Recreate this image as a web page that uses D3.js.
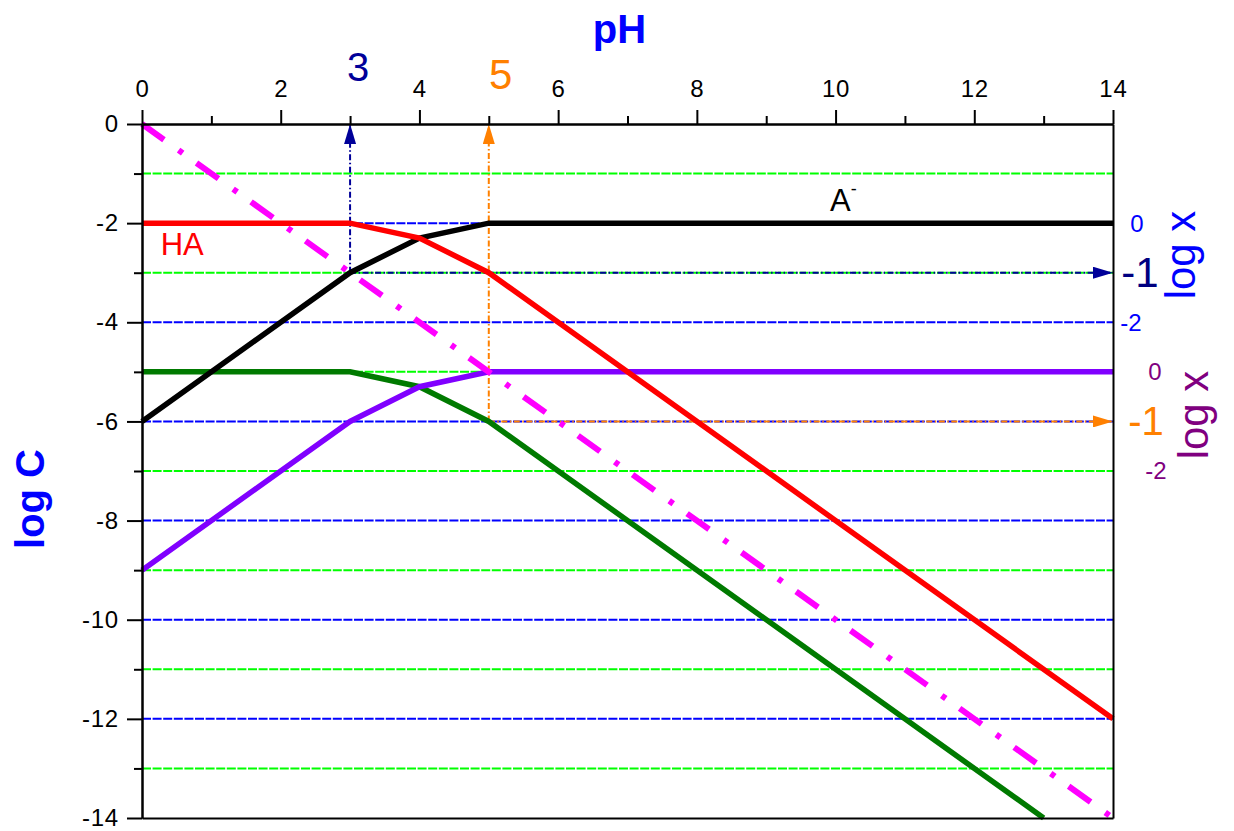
<!DOCTYPE html>
<html>
<head>
<meta charset="utf-8">
<script src="https://cdn.jsdelivr.net/npm/d3@7"></script>
<style>
  body { margin: 0; background: #fff; }
  svg { display: block; font-family: Arial, "Liberation Sans", sans-serif; }
</style>
</head>
<body>
<div id="chart"></div>
<script>
// Data: log C vs pH for each species
const haPH = [0, 3, 4, 5, 14];
const haLogC = [-2, -2, -2.3, -3, -12];
const aPH = [0, 3, 4, 5, 14];
const aLogC = [-6, -3, -2.3, -2, -2];
const greenPH = [0, 3, 4, 5, 13];
const greenLogC = [-5, -5, -5.3, -6, -14];
const purplePH = [0, 3, 4, 5, 14];
const purpleLogC = [-9, -6, -5.3, -5, -5];
const hPH = [0, 14];
const hLogC = [0, -14];

// Ticks
const xMajorTicks = [0, 2, 4, 6, 8, 10, 12, 14];
const xMinorTicks = [1, 3, 5, 7, 9, 11, 13];
const yMajorTicks = [0, -2, -4, -6, -8, -10, -12, -14];
const yMinorTicks = [-1, -3, -5, -7, -9, -11, -13];
const greenGrid = [-1, -3, -5, -7, -9, -11, -13];
const blueGrid = [-2, -4, -6, -8, -10, -12];

// Reading of pH 3 and pH 5 (point on curve -> log x)
const readBluePH = 3, readBlueLogC = -3;
const readOrangePH = 5, readOrangeLogC = -6;

// Right-hand log x scales
const blueLogX = [0, -1, -2];
const purpleLogX = [0, -1, -2];

const width = 1234, height = 831;
const margin = {top: 124, right: 121, bottom: 13, left: 142};
const innerWidth = width - margin.left - margin.right;
const innerHeight = height - margin.top - margin.bottom;

const svg = d3.select("#chart").append("svg")
  .attr("width", width).attr("height", height);

const inner = svg.append("g")
  .attr("transform", `translate(${margin.left}, ${margin.top})`);

const xScale = d3.scaleLinear().domain([0, 14]).range([0, innerWidth]);
const yScale = d3.scaleLinear().domain([0, -14]).range([0, innerHeight]);

// log x scales on the right (blue: 0 at logC -2, purple: 0 at logC -5)
const yBlue = d3.scaleLinear().domain([0, -2]).range([yScale(-2), yScale(-4)]);
const yPurple = d3.scaleLinear().domain([0, -2]).range([yScale(-5), yScale(-7)]);

/* gridlines */
inner.selectAll(".grid-green")
  .data(greenGrid)
  .join("line")
    .attr("x1", 0).attr("x2", innerWidth)
    .attr("y1", d => yScale(d)).attr("y2", d => yScale(d))
    .attr("stroke", "#00ff00")
    .attr("stroke-width", 2)
    .attr("stroke-dasharray", "9,1.6");

inner.selectAll(".grid-blue")
  .data(blueGrid)
  .join("line")
    .attr("x1", 0).attr("x2", innerWidth)
    .attr("y1", d => yScale(d)).attr("y2", d => yScale(d))
    .attr("stroke", "#0000ff")
    .attr("stroke-width", 2)
    .attr("stroke-dasharray", "9,1.6");

/* reading guides with arrows */
const defs = svg.append("defs");
const addArrow = (id, colour) => {
  defs.append("marker")
    .attr("id", id)
    .attr("viewBox", "0 0 20 12")
    .attr("refX", 20).attr("refY", 6)
    .attr("markerWidth", 20).attr("markerHeight", 12)
    .attr("markerUnits", "userSpaceOnUse")
    .attr("orient", "auto")
    .append("path")
      .attr("d", "M0,0 L20,6 L0,12 Z")
      .attr("fill", colour);
};
addArrow("arrow-navy", "#000099");
addArrow("arrow-orange", "#ff8000");

const guide = (xv, yv, colour, marker) => {
  inner.append("line")
    .attr("x1", xScale(xv)).attr("y1", yScale(yv))
    .attr("x2", xScale(xv)).attr("y2", 0)
    .attr("stroke", colour).attr("stroke-width", 2)
    .attr("stroke-dasharray", "6,2.5,1.5,2.5")
    .attr("marker-end", `url(#${marker})`);
  inner.append("line")
    .attr("x1", xScale(xv)).attr("y1", yScale(yv))
    .attr("x2", innerWidth).attr("y2", yScale(yv))
    .attr("stroke", colour).attr("stroke-width", 2)
    .attr("stroke-dasharray", "6,2.5,1.5,2.5")
    .attr("marker-end", `url(#${marker})`);
};
guide(readBluePH, readBlueLogC, "#000099", "arrow-navy");
guide(readOrangePH, readOrangeLogC, "#ff8000", "arrow-orange");

/* species lines */
const line = d3.line().x(d => xScale(d[0])).y(d => yScale(d[1]));
const drawSeries = (xs, ys, colour, dash) => {
  inner.append("path")
    .attr("d", line(d3.zip(xs, ys)))
    .attr("fill", "none")
    .attr("stroke", colour)
    .attr("stroke-width", dash ? 6 : 5.5)
    .attr("stroke-dasharray", dash || null);
};
drawSeries(greenPH, greenLogC, "#007a00");
drawSeries(purplePH, purpleLogC, "#8000ff");
drawSeries(aPH, aLogC, "#000000");
drawSeries(haPH, haLogC, "#ff0000");
drawSeries(hPH, hLogC, "#ff00ff", "27,18,5,17");

/* axes */
const fontAxis = g => g.selectAll("text")
  .attr("font-size", 24)
  .attr("letter-spacing", 0.8)
  .attr("font-family", "Arial, 'Liberation Sans', sans-serif")
  .attr("fill", "#000");
const noText = g => g.selectAll("text").remove();
const fmt = d => String(d);

inner.append("g")
  .call(d3.axisTop(xScale).tickValues(xMajorTicks).tickSize(14).tickSizeOuter(0).tickPadding(13).tickFormat(fmt))
  .call(fontAxis);
inner.append("g")
  .call(d3.axisTop(xScale).tickValues(xMinorTicks).tickSize(8).tickSizeOuter(0))
  .call(noText);
inner.append("g")
  .call(d3.axisLeft(yScale).tickValues(yMajorTicks).tickSize(15).tickSizeOuter(0).tickPadding(8).tickFormat(fmt))
  .call(fontAxis);
inner.append("g")
  .call(d3.axisLeft(yScale).tickValues(yMinorTicks).tickSize(8).tickSizeOuter(0))
  .call(noText);
inner.append("g")
  .attr("transform", `translate(0, ${innerHeight})`)
  .call(d3.axisBottom(xScale).tickValues([]).tickSizeOuter(0));
inner.append("g")
  .attr("transform", `translate(${innerWidth}, 0)`)
  .call(d3.axisRight(yScale).tickValues([]).tickSizeOuter(0));
inner.selectAll(".domain, .tick line")
  .attr("stroke", "#000").attr("stroke-width", 2);

/* axis titles */
svg.append("text")
  .text("pH")
  .attr("x", margin.left + xScale(7) - 8).attr("y", 43)
  .attr("text-anchor", "middle")
  .attr("font-size", 40).attr("font-weight", "bold")
  .attr("fill", "#0000ff");

svg.append("text")
  .text("log C")
  .attr("transform", `translate(44, 499) rotate(-90)`)
  .attr("text-anchor", "middle")
  .attr("font-size", 40).attr("font-weight", "bold")
  .attr("fill", "#0000ff");

/* pH reading labels */
inner.append("text")
  .text(readBluePH)
  .attr("x", xScale(readBluePH) + 8).attr("y", -43)
  .attr("text-anchor", "middle")
  .attr("font-size", 40)
  .attr("fill", "#000099");
inner.append("text")
  .text(readOrangePH)
  .attr("x", xScale(readOrangePH) + 12).attr("y", -35)
  .attr("text-anchor", "middle")
  .attr("font-size", 42)
  .attr("fill", "#ff8000");

/* species labels */
inner.append("text")
  .text("HA")
  .attr("x", xScale(0.27)).attr("y", yScale(-2.64))
  .attr("font-size", 31)
  .attr("fill", "#ff0000");
const aLabel = inner.append("text")
  .attr("x", xScale(9.92)).attr("y", yScale(-1.75))
  .attr("font-size", 31)
  .attr("fill", "#000");
aLabel.append("tspan").text("A");
aLabel.append("tspan").text("-").attr("font-size", 18).attr("dy", -16);

/* right-hand log x scales */
const rightX = margin.left + innerWidth;
svg.selectAll(".blue-logx")
  .data(blueLogX)
  .join("text")
    .text(d => d)
    .attr("x", d => rightX + (d === 0 ? 24 : d === -2 ? 18 : 27))
    .attr("y", d => margin.top + yBlue(d))
    .attr("dy", "0.35em")
    .attr("text-anchor", "middle")
    .attr("font-size", d => d === -1 ? 42 : 24)
    .attr("fill", d => d === -1 ? "#000080" : "#0000ff");

svg.selectAll(".purple-logx")
  .data(purpleLogX)
  .join("text")
    .text(d => d)
    .attr("x", d => rightX + (d === 0 ? 42 : d === -2 ? 43 : 33))
    .attr("y", d => margin.top + yPurple(d))
    .attr("dy", "0.35em")
    .attr("text-anchor", "middle")
    .attr("font-size", d => d === -1 ? 40 : 24)
    .attr("fill", d => d === -1 ? "#ff8000" : "#800080");

svg.append("text")
  .text("log x")
  .attr("transform", `translate(1195, 255) rotate(-90)`)
  .attr("text-anchor", "middle")
  .attr("font-size", 42)
  .attr("fill", "#0000ff");
svg.append("text")
  .text("log x")
  .attr("transform", `translate(1208, 415) rotate(-90)`)
  .attr("text-anchor", "middle")
  .attr("font-size", 42)
  .attr("fill", "#800080");
</script>
</body>
</html>
